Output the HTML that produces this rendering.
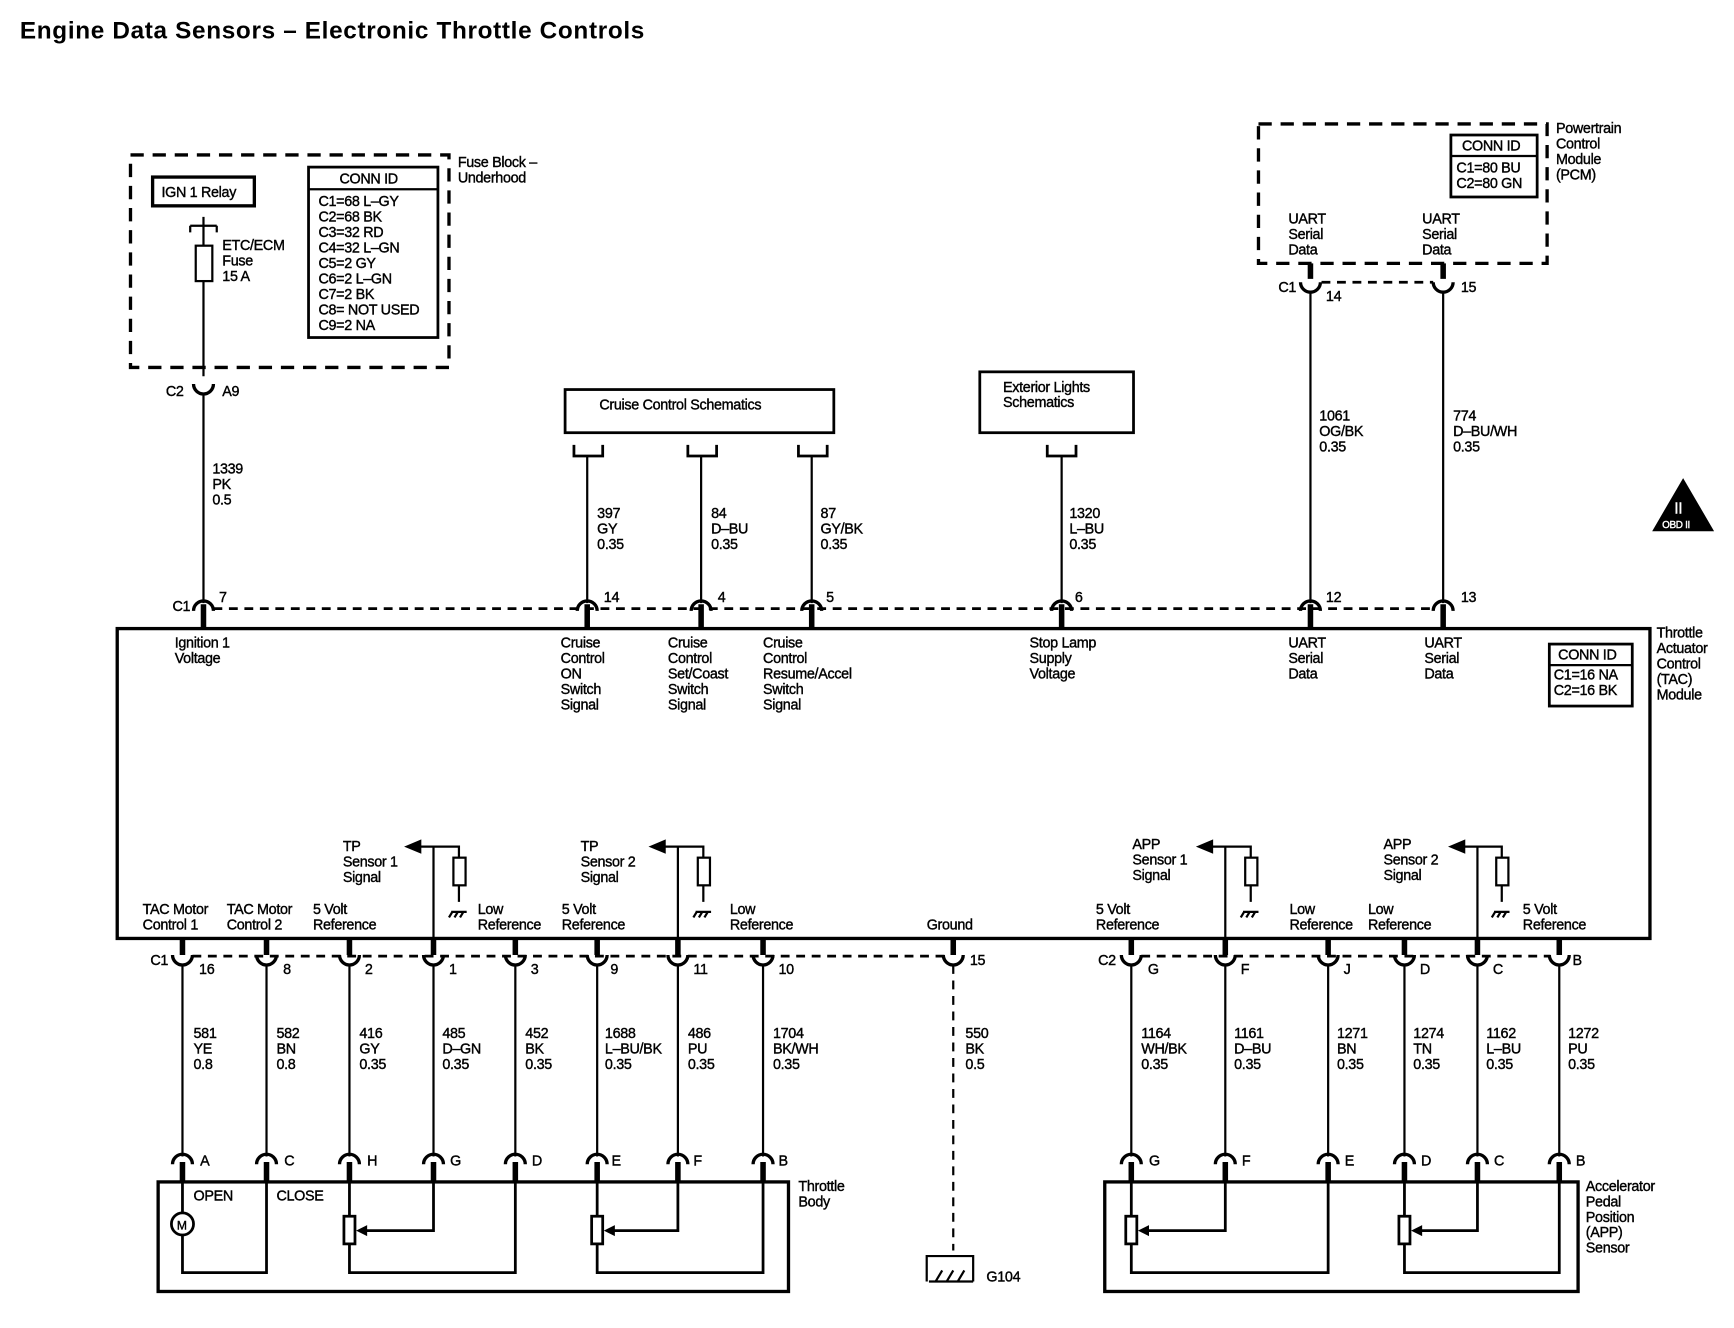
<!DOCTYPE html>
<html><head><meta charset="utf-8"><style>
html,body{margin:0;padding:0;background:#fff}
svg{display:block}
text{font-family:"Liberation Sans",sans-serif;font-size:13px;fill:#000;stroke:#000;stroke-width:0.35;letter-spacing:-0.3px}
.t{font-size:22px;font-weight:bold;stroke-width:0;letter-spacing:0.6px}
</style></head><body>
<svg width="1734" height="1328" viewBox="0 0 1568 1200" preserveAspectRatio="none" xmlns="http://www.w3.org/2000/svg">
<defs>
<g id="cup"><path d="M-9,-3 A9,9 0 0 0 9,-3" fill="none" stroke="#000" stroke-width="3"/></g>
<g id="cap"><path d="M-9,4 A9,9 0 0 1 9,4" fill="none" stroke="#000" stroke-width="3"/></g>
<g id="gnd"><path d="M-7,0 H7 M-6,0 L-9,5 M-1,0 L-4,5 M4,0 L1,5" stroke="#000" stroke-width="2" fill="none"/></g>
</defs>
<g fill="none" stroke="#000">
<text class="t" x="18" y="35">Engine Data Sensors – Electronic Throttle Controls</text>

<rect x="118" y="140" width="288" height="192" stroke-width="3" stroke-dasharray="12,8"/>
<rect x="138" y="160" width="92" height="26" stroke-width="3"/>
<rect x="279" y="151" width="117" height="154" stroke-width="2.5"/>
<line x1="279" y1="171" x2="396" y2="171" stroke-width="2"/>
<line x1="184" y1="196" x2="184" y2="340" stroke-width="2"/>
<path d="M172,204 H196 M172,204 V210 M196,204 V210" stroke-width="2"/>
<rect x="177" y="222" width="15" height="32" stroke-width="2" fill="#fff"/>
<use href="#cup" x="184" y="350"/>
<line x1="184" y1="357" x2="184" y2="545" stroke-width="2"/>

<line x1="193" y1="550" x2="1296" y2="550" stroke-width="2.5" stroke-dasharray="8,6"/>
<g stroke-width="5">
<line x1="184" y1="546" x2="184" y2="568"/><line x1="531" y1="546" x2="531" y2="568"/><line x1="634" y1="546" x2="634" y2="568"/><line x1="734" y1="546" x2="734" y2="568"/><line x1="960" y1="546" x2="960" y2="568"/><line x1="1185" y1="546" x2="1185" y2="568"/><line x1="1305" y1="546" x2="1305" y2="568"/>
</g>
<use href="#cap" x="184" y="548"/><use href="#cap" x="531" y="548"/><use href="#cap" x="634" y="548"/><use href="#cap" x="734" y="548"/><use href="#cap" x="960" y="548"/><use href="#cap" x="1185" y="548"/><use href="#cap" x="1305" y="548"/>

<rect x="511" y="352" width="243" height="39" stroke-width="2.5"/>
<path d="M519,402 V412 H545 V402 M622,402 V412 H648 V402 M722,402 V412 H748 V402 M947,402 V412 H973 V402" stroke-width="2.5"/>
<rect x="886" y="336" width="139" height="55" stroke-width="2.5"/>
<path d="M531,412 V545 M634,412 V545 M734,412 V545 M960,412 V545" stroke-width="2"/>

<rect x="1138" y="112" width="261" height="126" stroke-width="3" stroke-dasharray="12,8"/>
<rect x="1312" y="122" width="78" height="56" stroke-width="2.5"/>
<line x1="1312" y1="141" x2="1390" y2="141" stroke-width="2"/>
<path d="M1185,238 V252 M1305,238 V252" stroke-width="5"/>
<line x1="1195" y1="255" x2="1296" y2="255" stroke-width="2.5" stroke-dasharray="8,6"/>
<use href="#cup" x="1185" y="258"/><use href="#cup" x="1305" y="258"/>
<path d="M1185,265 V545 M1305,265 V545" stroke-width="2"/>

<path d="M1522,432 L1550,480 H1494 Z" fill="#000" stroke="none"/>

<rect x="106" y="568" width="1386" height="280" stroke-width="3"/>
<rect x="1401" y="582" width="75" height="56" stroke-width="2.5"/>
<line x1="1401" y1="601" x2="1476" y2="601" stroke-width="2"/>

<g stroke-width="2">
<path d="M392,765 V848 M372,765 H415 V775 M415,800 V815"/><rect x="410" y="775" width="11" height="25"/><path d="M368,765 L380,760 V770 Z" fill="#000"/>
<path d="M613,765 V848 M593,765 H636 V775 M636,800 V815"/><rect x="631" y="775" width="11" height="25"/><path d="M589,765 L601,760 V770 Z" fill="#000"/>
<path d="M1108,765 V848 M1088,765 H1131 V775 M1131,800 V815"/><rect x="1126" y="775" width="11" height="25"/><path d="M1084,765 L1096,760 V770 Z" fill="#000"/>
<path d="M1336,765 V848 M1336,765 H1358 V775 M1358,800 V815 M1336,765 H1320"/><rect x="1353" y="775" width="11" height="25"/><path d="M1312,765 L1324,760 V770 Z" fill="#000"/>
</g>
<use href="#gnd" x="415" y="824"/><use href="#gnd" x="636" y="824"/><use href="#gnd" x="1131" y="824"/><use href="#gnd" x="1358" y="824"/>

<line x1="174" y1="864" x2="854" y2="864" stroke-width="2.5" stroke-dasharray="8,6"/>
<line x1="1032" y1="864" x2="1402" y2="864" stroke-width="2.5" stroke-dasharray="8,6"/>
<g stroke-width="5">
<path d="M165,848 V863 M241,848 V863 M316,848 V863 M392,848 V863 M466,848 V863 M540,848 V863 M613,848 V863 M690,848 V863 M862,848 V863 M1023,848 V863 M1108,848 V863 M1201,848 V863 M1270,848 V863 M1336,848 V863 M1410,848 V863"/>
</g>
<use href="#cup" x="165" y="866"/><use href="#cup" x="241" y="866"/><use href="#cup" x="316" y="866"/><use href="#cup" x="392" y="866"/><use href="#cup" x="466" y="866"/><use href="#cup" x="540" y="866"/><use href="#cup" x="613" y="866"/><use href="#cup" x="690" y="866"/><use href="#cup" x="862" y="866"/><use href="#cup" x="1023" y="866"/><use href="#cup" x="1108" y="866"/><use href="#cup" x="1201" y="866"/><use href="#cup" x="1270" y="866"/><use href="#cup" x="1336" y="866"/><use href="#cup" x="1410" y="866"/>
<g stroke-width="2">
<path d="M165,872 V1045 M241,872 V1045 M316,872 V1045 M392,872 V1045 M466,872 V1045 M540,872 V1045 M613,872 V1045 M690,872 V1045 M1023,872 V1045 M1108,872 V1045 M1201,872 V1045 M1270,872 V1045 M1336,872 V1045 M1410,872 V1045"/>
<path d="M862,872 V1130" stroke-dasharray="8,6"/>
</g>
<g stroke-width="5">
<path d="M165,1050 V1068 M241,1050 V1068 M316,1050 V1068 M392,1050 V1068 M466,1050 V1068 M540,1050 V1068 M613,1050 V1068 M690,1050 V1068 M1023,1050 V1068 M1108,1050 V1068 M1201,1050 V1068 M1270,1050 V1068 M1336,1050 V1068 M1410,1050 V1068"/>
</g>
<use href="#cap" x="165" y="1048"/><use href="#cap" x="241" y="1048"/><use href="#cap" x="316" y="1048"/><use href="#cap" x="392" y="1048"/><use href="#cap" x="466" y="1048"/><use href="#cap" x="540" y="1048"/><use href="#cap" x="613" y="1048"/><use href="#cap" x="690" y="1048"/><use href="#cap" x="1023" y="1048"/><use href="#cap" x="1108" y="1048"/><use href="#cap" x="1201" y="1048"/><use href="#cap" x="1270" y="1048"/><use href="#cap" x="1336" y="1048"/><use href="#cap" x="1410" y="1048"/>

<path d="M838,1158 V1135 H880 V1158" stroke-width="2"/>
<path d="M846,1158 L852,1148 M856,1158 L862,1148 M866,1158 L872,1148 M840,1158 H880" stroke-width="2"/>

<rect x="143" y="1068" width="570" height="99" stroke-width="3"/>
<g stroke-width="2.5">
<path d="M165,1068 V1096 M165,1116 V1150 H241 V1068"/>
<path d="M316,1068 V1150 H466 V1068"/>
<path d="M392,1068 V1112 H326"/>
<path d="M540,1068 V1150 H690 V1068"/>
<path d="M613,1068 V1112 H550"/>
</g>
<circle cx="165" cy="1106" r="10" stroke-width="2.5" fill="#fff"/>
<rect x="311" y="1099" width="10" height="25" stroke-width="2.5" fill="#fff"/>
<rect x="535" y="1099" width="10" height="25" stroke-width="2.5" fill="#fff"/>
<path d="M322,1112 L332,1107 V1117 Z M546,1112 L556,1107 V1117 Z" fill="#000" stroke="none"/>

<rect x="999" y="1068" width="428" height="99" stroke-width="3"/>
<g stroke-width="2.5">
<path d="M1023,1068 V1150 H1201 V1068"/>
<path d="M1108,1068 V1112 H1033"/>
<path d="M1270,1068 V1150 H1410 V1068"/>
<path d="M1336,1068 V1112 H1280"/>
</g>
<rect x="1018" y="1099" width="10" height="25" stroke-width="2.5" fill="#fff"/>
<rect x="1265" y="1099" width="10" height="25" stroke-width="2.5" fill="#fff"/>
<path d="M1029,1112 L1039,1107 V1117 Z M1276,1112 L1286,1107 V1117 Z" fill="#000" stroke="none"/>
</g>

<g>
<text x="414" y="151">Fuse Block –</text><text x="414" y="165">Underhood</text>
<text x="146" y="178">IGN 1 Relay</text>
<text x="307" y="166">CONN ID</text>
<text x="288" y="186">C1=68 L–GY</text><text x="288" y="200">C2=68 BK</text><text x="288" y="214">C3=32 RD</text><text x="288" y="228">C4=32 L–GN</text><text x="288" y="242">C5=2 GY</text><text x="288" y="256">C6=2 L–GN</text><text x="288" y="270">C7=2 BK</text><text x="288" y="284">C8= NOT USED</text><text x="288" y="298">C9=2 NA</text>
<text x="201" y="226">ETC/ECM</text><text x="201" y="240">Fuse</text><text x="201" y="254">15 A</text>
<text x="150" y="358">C2</text><text x="201" y="358">A9</text>
<text x="192" y="428">1339</text><text x="192" y="442">PK</text><text x="192" y="456">0.5</text>
<text x="542" y="370">Cruise Control Schematics</text>
<text x="907" y="354">Exterior Lights</text><text x="907" y="368">Schematics</text>
<text x="540" y="468">397</text><text x="540" y="482">GY</text><text x="540" y="496">0.35</text>
<text x="643" y="468">84</text><text x="643" y="482">D–BU</text><text x="643" y="496">0.35</text>
<text x="742" y="468">87</text><text x="742" y="482">GY/BK</text><text x="742" y="496">0.35</text>
<text x="967" y="468">1320</text><text x="967" y="482">L–BU</text><text x="967" y="496">0.35</text>
<text x="1407" y="120">Powertrain</text><text x="1407" y="134">Control</text><text x="1407" y="148">Module</text><text x="1407" y="162">(PCM)</text>
<text x="1322" y="136">CONN ID</text><text x="1317" y="156">C1=80 BU</text><text x="1317" y="170">C2=80 GN</text>
<text x="1165" y="202">UART</text><text x="1165" y="216">Serial</text><text x="1165" y="230">Data</text>
<text x="1286" y="202">UART</text><text x="1286" y="216">Serial</text><text x="1286" y="230">Data</text>
<text x="1156" y="264">C1</text><text x="1199" y="272">14</text><text x="1321" y="264">15</text>
<text x="1193" y="380">1061</text><text x="1193" y="394">OG/BK</text><text x="1193" y="408">0.35</text>
<text x="1314" y="380">774</text><text x="1314" y="394">D–BU/WH</text><text x="1314" y="408">0.35</text>
<text x="1514" y="464" style="fill:#fff;stroke:#fff;font-size:14px">II</text>
<text x="1503" y="477" style="fill:#fff;stroke:#fff;font-size:9px">OBD II</text>
<text x="156" y="552">C1</text><text x="198" y="544">7</text><text x="546" y="544">14</text><text x="649" y="544">4</text><text x="747" y="544">5</text><text x="972" y="544">6</text><text x="1199" y="544">12</text><text x="1321" y="544">13</text>
<text x="158" y="585">Ignition 1</text><text x="158" y="599">Voltage</text>
<text x="507" y="585">Cruise</text><text x="507" y="599">Control</text><text x="507" y="613">ON</text><text x="507" y="627">Switch</text><text x="507" y="641">Signal</text>
<text x="604" y="585">Cruise</text><text x="604" y="599">Control</text><text x="604" y="613">Set/Coast</text><text x="604" y="627">Switch</text><text x="604" y="641">Signal</text>
<text x="690" y="585">Cruise</text><text x="690" y="599">Control</text><text x="690" y="613">Resume/Accel</text><text x="690" y="627">Switch</text><text x="690" y="641">Signal</text>
<text x="931" y="585">Stop Lamp</text><text x="931" y="599">Supply</text><text x="931" y="613">Voltage</text>
<text x="1165" y="585">UART</text><text x="1165" y="599">Serial</text><text x="1165" y="613">Data</text>
<text x="1288" y="585">UART</text><text x="1288" y="599">Serial</text><text x="1288" y="613">Data</text>
<text x="1409" y="596">CONN ID</text><text x="1405" y="614">C1=16 NA</text><text x="1405" y="628">C2=16 BK</text>
<text x="1498" y="576">Throttle</text><text x="1498" y="590">Actuator</text><text x="1498" y="604">Control</text><text x="1498" y="618">(TAC)</text><text x="1498" y="632">Module</text>
<text x="310" y="769">TP</text><text x="310" y="783">Sensor 1</text><text x="310" y="797">Signal</text>
<text x="525" y="769">TP</text><text x="525" y="783">Sensor 2</text><text x="525" y="797">Signal</text>
<text x="1024" y="767">APP</text><text x="1024" y="781">Sensor 1</text><text x="1024" y="795">Signal</text>
<text x="1251" y="767">APP</text><text x="1251" y="781">Sensor 2</text><text x="1251" y="795">Signal</text>
<text x="129" y="826">TAC Motor</text><text x="129" y="840">Control 1</text>
<text x="205" y="826">TAC Motor</text><text x="205" y="840">Control 2</text>
<text x="283" y="826">5 Volt</text><text x="283" y="840">Reference</text>
<text x="432" y="826">Low</text><text x="432" y="840">Reference</text>
<text x="508" y="826">5 Volt</text><text x="508" y="840">Reference</text>
<text x="660" y="826">Low</text><text x="660" y="840">Reference</text>
<text x="838" y="840">Ground</text>
<text x="991" y="826">5 Volt</text><text x="991" y="840">Reference</text>
<text x="1166" y="826">Low</text><text x="1166" y="840">Reference</text>
<text x="1237" y="826">Low</text><text x="1237" y="840">Reference</text>
<text x="1377" y="826">5 Volt</text><text x="1377" y="840">Reference</text>
<text x="136" y="872">C1</text><text x="180" y="880">16</text><text x="256" y="880">8</text><text x="330" y="880">2</text><text x="406" y="880">1</text><text x="480" y="880">3</text><text x="552" y="880">9</text><text x="627" y="880">11</text><text x="704" y="880">10</text><text x="877" y="872">15</text>
<text x="993" y="872">C2</text><text x="1038" y="880">G</text><text x="1122" y="880">F</text><text x="1215" y="880">J</text><text x="1284" y="880">D</text><text x="1350" y="880">C</text><text x="1422" y="872">B</text>
<text x="175" y="938">581</text><text x="175" y="952">YE</text><text x="175" y="966">0.8</text>
<text x="250" y="938">582</text><text x="250" y="952">BN</text><text x="250" y="966">0.8</text>
<text x="325" y="938">416</text><text x="325" y="952">GY</text><text x="325" y="966">0.35</text>
<text x="400" y="938">485</text><text x="400" y="952">D–GN</text><text x="400" y="966">0.35</text>
<text x="475" y="938">452</text><text x="475" y="952">BK</text><text x="475" y="966">0.35</text>
<text x="547" y="938">1688</text><text x="547" y="952">L–BU/BK</text><text x="547" y="966">0.35</text>
<text x="622" y="938">486</text><text x="622" y="952">PU</text><text x="622" y="966">0.35</text>
<text x="699" y="938">1704</text><text x="699" y="952">BK/WH</text><text x="699" y="966">0.35</text>
<text x="873" y="938">550</text><text x="873" y="952">BK</text><text x="873" y="966">0.5</text>
<text x="1032" y="938">1164</text><text x="1032" y="952">WH/BK</text><text x="1032" y="966">0.35</text>
<text x="1116" y="938">1161</text><text x="1116" y="952">D–BU</text><text x="1116" y="966">0.35</text>
<text x="1209" y="938">1271</text><text x="1209" y="952">BN</text><text x="1209" y="966">0.35</text>
<text x="1278" y="938">1274</text><text x="1278" y="952">TN</text><text x="1278" y="966">0.35</text>
<text x="1344" y="938">1162</text><text x="1344" y="952">L–BU</text><text x="1344" y="966">0.35</text>
<text x="1418" y="938">1272</text><text x="1418" y="952">PU</text><text x="1418" y="966">0.35</text>
<text x="181" y="1053">A</text><text x="257" y="1053">C</text><text x="332" y="1053">H</text><text x="407" y="1053">G</text><text x="481" y="1053">D</text><text x="553" y="1053">E</text><text x="627" y="1053">F</text><text x="704" y="1053">B</text>
<text x="1039" y="1053">G</text><text x="1123" y="1053">F</text><text x="1216" y="1053">E</text><text x="1285" y="1053">D</text><text x="1351" y="1053">C</text><text x="1425" y="1053">B</text>
<text x="175" y="1085">OPEN</text><text x="250" y="1085">CLOSE</text>
<text x="160" y="1111" style="font-size:11px">M</text>
<text x="722" y="1076">Throttle</text><text x="722" y="1090">Body</text>
<text x="1434" y="1076">Accelerator</text><text x="1434" y="1090">Pedal</text><text x="1434" y="1104">Position</text><text x="1434" y="1118">(APP)</text><text x="1434" y="1132">Sensor</text>
<text x="892" y="1158">G104</text>
</g>
</svg>
</body></html>
